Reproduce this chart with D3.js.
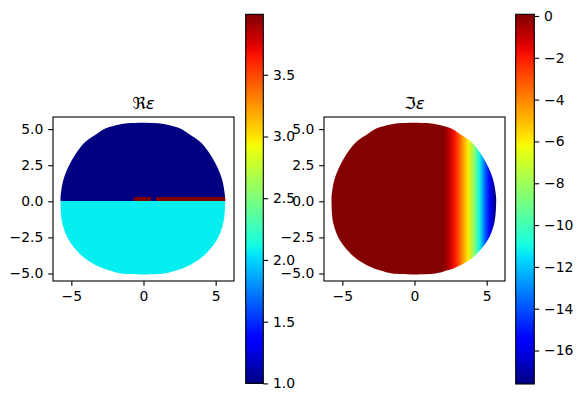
<!DOCTYPE html>
<html>
<head>
<meta charset="utf-8">
<script src="https://cdn.jsdelivr.net/npm/d3@7"></script>
<style>
  html, body { margin: 0; padding: 0; background: #fff; }
  text { font-family: "DejaVu Sans", sans-serif; fill: #000; }
</style>
</head>
<body>
<svg id="chart" width="582" height="402"></svg>
<script>
// ---------------- DATA ----------------
// Domain boundary (data coordinates): for each y, left and right x edge
const boundaryY     = [5.40, 5.2, 5.0, 4.6, 4.15, 3.5, 2.5, 1.5, 0.5, 0.0, -1.5, -2.68, -3.5, -4.0, -4.5, -4.8, -5.0];
const boundaryLeft  = [-1.1, -2.15, -2.75, -3.35, -4.0, -4.55, -5.15, -5.55, -5.73, -5.75, -5.63, -5.18, -4.55, -4.0, -3.15, -2.35, -1.55];
const boundaryRight = [1.0, 2.05, 2.65, 3.25, 3.9, 4.45, 5.05, 5.45, 5.63, 5.66, 5.53, 5.08, 4.45, 3.9, 3.05, 2.25, 1.45];

// Real part: rectangular material regions (drawn in order, clipped to domain)
const realValues = [1.0, 2.07, 3.99, 3.99];
const realX0 = [-7, -7, -0.69, 0.88];
const realX1 = [7, 7, 0.53, 7];
const realY0 = [0, -7, 0.0, 0.0];
const realY1 = [7, 0, 0.3, 0.3];

// Imaginary part: profile along x (independent of y)
const imagX = [-6.3, 2.0, 2.4, 2.8, 3.26, 3.72, 4.18, 4.52, 4.9, 5.21, 5.55, 5.8];
const imagV = [0.0, 0.0, -0.8, -1.9, -3.9, -6.0, -8.8, -11.2, -13.8, -15.5, -17.4, -17.6];

// Color ranges and tick labels
const realRange = [1.0, 3.99];
const imagRange = [-17.6, 0.08];
const axisTicks = [-5, 0, 5];
const axisYTicks = [-5.0, -2.5, 0.0, 2.5, 5.0];
const realCbTicks = [1.0, 1.5, 2.0, 2.5, 3.0, 3.5];
const imagCbTicks = [0, -2, -4, -6, -8, -10, -12, -14, -16];
const titles = ["\u211C", "\u2111"];

// ---------------- COLORMAP (matplotlib jet) ----------------
const jetR = [[0,0],[0.35,0],[0.66,1],[0.89,1],[1,0.5]];
const jetG = [[0,0],[0.125,0],[0.375,1],[0.64,1],[0.91,0],[1,0]];
const jetB = [[0,0.5],[0.11,1],[0.34,1],[0.65,0],[1,0]];
function seg(s, t) {
  t = Math.max(0, Math.min(1, t));
  for (let i = 1; i < s.length; i++) {
    if (t <= s[i][0]) {
      const f = (t - s[i-1][0]) / (s[i][0] - s[i-1][0]);
      return s[i-1][1] + f * (s[i][1] - s[i-1][1]);
    }
  }
  return s[s.length-1][1];
}
function jet(t) {
  return d3.rgb(seg(jetR,t)*255, seg(jetG,t)*255, seg(jetB,t)*255).formatHex();
}

// ---------------- LAYOUT ----------------
const svg = d3.select("#chart");
svg.append("rect").attr("width", 582).attr("height", 402).attr("fill", "#fff");
const FS = 13.9, TICK = 4.86, PAD = 4.86;
const xDom = [-6.27, 6.27], yDom = [-5.52, 5.84];
const panels = [
  {x0: 53, x1: 234, y0: 117, y1: 281, cb: {x0: 245.7, x1: 263.3, y0: 14.3, y1: 383.4}},
  {x0: 324, x1: 505, y0: 117, y1: 281, cb: {x0: 515.7, x1: 534.3, y0: 14.3, y1: 384}}
];
const defs = svg.append("defs");
const fmt1 = d => d3.format(".1f")(d).replace("-", "\u2212");
const fmt0 = d => d3.format("d")(d).replace("-", "\u2212");

panels.forEach((p, idx) => {
  const x = d3.scaleLinear().domain(xDom).range([p.x0, p.x1]);
  const y = d3.scaleLinear().domain(yDom).range([p.y1, p.y0]);
  const range = idx === 0 ? realRange : imagRange;
  const norm = d3.scaleLinear().domain(range).range([0, 1]);

  // clip path for domain: right edge top->bottom, then left edge bottom->top
  const pts = boundaryY.map((by, i) => [x(boundaryRight[i]), y(by)])
    .concat(boundaryY.map((by, i) => [x(boundaryLeft[i]), y(by)]).reverse());
  defs.append("clipPath").attr("id", "dom" + idx)
    .append("path").attr("d", d3.line().curve(d3.curveCatmullRomClosed.alpha(0.5))(pts));
  const g = svg.append("g").attr("clip-path", `url(#dom${idx})`);

  if (idx === 0) {
    realValues.forEach((v, i) => {
      g.append("rect")
        .attr("x", x(Math.max(realX0[i], xDom[0])))
        .attr("y", y(Math.min(realY1[i], yDom[1])))
        .attr("width", x(Math.min(realX1[i], xDom[1])) - x(Math.max(realX0[i], xDom[0])))
        .attr("height", y(Math.max(realY0[i], yDom[0])) - y(Math.min(realY1[i], yDom[1])))
        .attr("fill", jet(norm(v)))
        .attr("shape-rendering", "crispEdges");
    });
  } else {
    const grad = defs.append("linearGradient").attr("id", "imgrad")
      .attr("gradientUnits", "userSpaceOnUse")
      .attr("x1", x(imagX[0])).attr("x2", x(imagX[imagX.length-1]))
      .attr("y1", 0).attr("y2", 0);
    const span = x(imagX[imagX.length-1]) - x(imagX[0]);
    imagX.forEach((ix, i) => {
      grad.append("stop").attr("offset", (x(ix) - x(imagX[0])) / span)
        .attr("stop-color", jet(norm(imagV[i])));
    });
    g.append("rect").attr("x", p.x0).attr("y", p.y0)
      .attr("width", p.x1 - p.x0).attr("height", p.y1 - p.y0)
      .attr("fill", "url(#imgrad)");
  }

  // axes frame
  svg.append("rect").attr("x", p.x0).attr("y", p.y0)
    .attr("width", p.x1 - p.x0).attr("height", p.y1 - p.y0)
    .attr("fill", "none").attr("stroke", "#000").attr("stroke-width", 1.1);

  // x axis
  const xa = svg.append("g").attr("transform", `translate(0,${p.y1})`)
    .call(d3.axisBottom(x).tickValues(axisTicks).tickSize(TICK).tickPadding(PAD).tickFormat(fmt0));
  xa.select(".domain").remove();
  xa.selectAll("text").attr("font-size", FS).attr("font-family", "DejaVu Sans").attr("fill", "#000");
  xa.selectAll("line").attr("stroke", "#000").attr("stroke-width", 1.1);

  // y axis
  const ya = svg.append("g").attr("transform", `translate(${p.x0},0)`)
    .call(d3.axisLeft(y).tickValues(axisYTicks).tickSize(TICK).tickPadding(PAD).tickFormat(fmt1));
  ya.select(".domain").remove();
  ya.selectAll("text").attr("font-size", FS).attr("font-family", "DejaVu Sans").attr("fill", "#000");
  ya.selectAll("line").attr("stroke", "#000").attr("stroke-width", 1.1);

  // title
  const t = svg.append("text").attr("x", (p.x0 + p.x1) / 2).attr("y", p.y0 - 8.3)
    .attr("text-anchor", "middle").attr("font-size", 16.7);
  t.append("tspan").text(titles[idx]);
  t.append("tspan").attr("font-style", "italic").text("\u03B5");

  // colorbar
  const cb = p.cb;
  const cgrad = defs.append("linearGradient").attr("id", "cb" + idx)
    .attr("x1", 0).attr("x2", 0).attr("y1", 1).attr("y2", 0);
  d3.range(0, 1.0001, 0.02).forEach(tt => {
    cgrad.append("stop").attr("offset", tt).attr("stop-color", jet(tt));
  });
  svg.append("rect").attr("x", cb.x0).attr("y", cb.y0)
    .attr("width", cb.x1 - cb.x0).attr("height", cb.y1 - cb.y0)
    .attr("fill", `url(#cb${idx})`).attr("stroke", "#000").attr("stroke-width", 1.1);
  const cs = d3.scaleLinear().domain(range).range([cb.y1, cb.y0]);
  const ca = svg.append("g").attr("transform", `translate(${cb.x1},0)`)
    .call(d3.axisRight(cs).tickValues(idx === 0 ? realCbTicks : imagCbTicks)
      .tickSize(TICK).tickPadding(PAD).tickFormat(idx === 0 ? fmt1 : fmt0));
  ca.select(".domain").remove();
  ca.selectAll("text").attr("font-size", FS).attr("font-family", "DejaVu Sans").attr("fill", "#000");
  ca.selectAll("line").attr("stroke", "#000").attr("stroke-width", 1.1);
});
</script>
</body>
</html>
